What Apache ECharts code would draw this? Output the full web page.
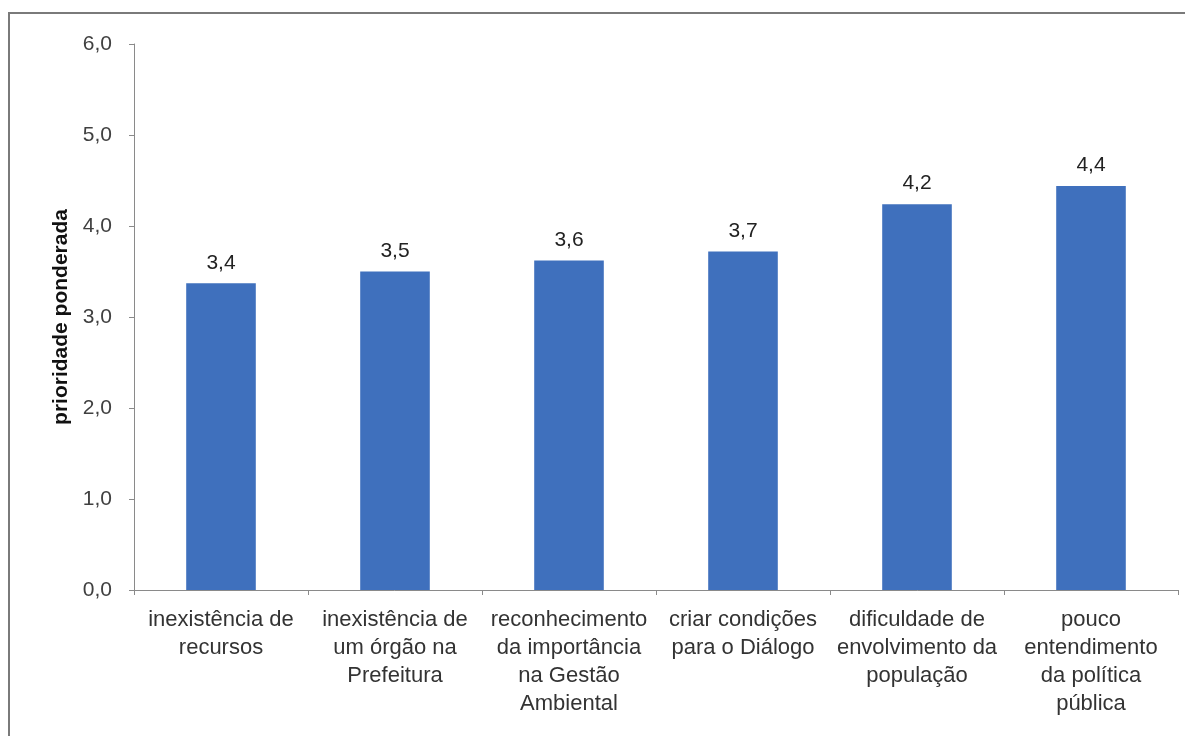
<!DOCTYPE html>
<html>
<head>
<meta charset="utf-8">
<script src="https://cdn.jsdelivr.net/npm/echarts@6/dist/echarts.min.js"></script>
<style>
  html, body { margin: 0; padding: 0; background: #fff; }
  #chart { width: 1185px; height: 736px; }
</style>
</head>
<body>
<div id="chart"></div>
<script>
var categories = [
  "inexistência de\nrecursos",
  "inexistência de\num órgão na\nPrefeitura",
  "reconhecimento\nda importância\nna Gestão\nAmbiental",
  "criar condições\npara o Diálogo",
  "dificuldade de\nenvolvimento da\npopulação",
  "pouco\nentendimento\nda política\npública"
];
var values = [3.37, 3.5, 3.62, 3.72, 4.24, 4.44];
var yTicks = [0, 1, 2, 3, 4, 5, 6];

var fontFam = '"Liberation Sans", Arial, sans-serif';

function virgula(v) {
  // decimal com vírgula, como no original
  return Number(v).toFixed(1).replace('.', ',');
}

var chart = echarts.init(document.getElementById('chart'));
var option = {
  backgroundColor: '#fff',
  animation: false,
  graphic: [{
    type: 'rect',
    shape: { x: 9, y: 13, width: 1200, height: 800 },
    style: { fill: 'none', stroke: '#7a7a7a', lineWidth: 2 },
    silent: true
  }],
  grid: {
    left: 134,
    right: 7,
    top: 44,
    bottom: 146
  },
  xAxis: {
    type: 'category',
    data: categories,
    axisLine: { lineStyle: { color: '#8a8a8a', width: 1 } },
    axisTick: { show: true, alignWithLabel: false, length: 5, lineStyle: { color: '#8a8a8a' } },
    axisLabel: {
      interval: 0,
      margin: 16,
      color: '#333',
      fontSize: 22,
      lineHeight: 28,
      fontFamily: fontFam
    }
  },
  yAxis: {
    type: 'value',
    min: yTicks[0],
    max: yTicks[yTicks.length - 1],
    interval: 1,
    name: 'prioridade ponderada',
    nameLocation: 'middle',
    nameGap: 62,
    nameTextStyle: {
      fontWeight: 'bold',
      fontSize: 21,
      color: '#111',
      fontFamily: fontFam
    },
    axisLine: { show: true, lineStyle: { color: '#8a8a8a', width: 1 } },
    axisTick: { show: true, length: 5, lineStyle: { color: '#8a8a8a' } },
    splitLine: { show: false },
    axisLabel: {
      margin: 22,
      color: '#404040',
      fontSize: 21,
      fontFamily: fontFam,
      formatter: virgula
    }
  },
  series: [{
    type: 'bar',
    data: values,
    barWidth: '40%',
    itemStyle: { color: '#3f70bd' },
    label: {
      show: true,
      position: 'top',
      distance: 10,
      color: '#222',
      fontSize: 21,
      fontFamily: fontFam,
      formatter: function (p) { return virgula(p.value); }
    }
  }]
};
chart.setOption(option);
</script>
</body>
</html>
